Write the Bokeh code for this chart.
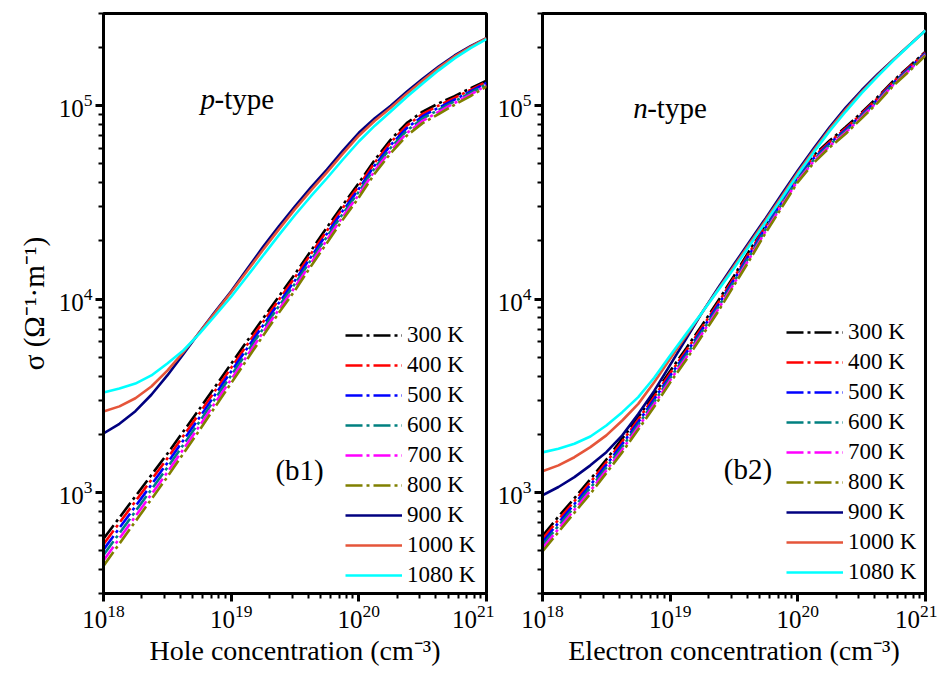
import numpy as np
from bokeh.plotting import figure
from bokeh.models import FixedTicker, Label, Legend, LegendItem, Range1d
from bokeh.layouts import row
from bokeh.embed import file_html
from bokeh.resources import INLINE

# ---- data (log10 of concentration in cm^-3, log10 of sigma in Ohm^-1 m^-1) ----
log_conc = [18.0, 18.125, 18.25, 18.375, 18.5, 18.625, 18.75, 18.875, 19.0,
            19.125, 19.25, 19.375, 19.5, 19.625, 19.75, 19.875, 20.0,
            20.125, 20.25, 20.375, 20.5, 20.625, 20.75, 20.875, 21.0]

temps = ["300 K", "400 K", "500 K", "600 K", "700 K", "800 K", "900 K", "1000 K", "1080 K"]
colors = ["#000000", "#FF0000", "#0000FF", "#008080", "#FF00FF", "#808000",
          "#000080", "#E5553A", "#00FFFF"]

# p-type (b1)
p_300 = [2.760, 2.870, 2.980, 3.090, 3.200, 3.315, 3.430, 3.548, 3.665, 3.783, 3.900, 4.015, 4.130,
         4.250, 4.370, 4.487, 4.600, 4.720, 4.825, 4.910, 4.970, 5.012, 5.050, 5.090, 5.130]
p_400 = [2.732, 2.843, 2.954, 3.065, 3.176, 3.292, 3.408, 3.527, 3.645, 3.764, 3.882, 3.998, 4.113,
         4.234, 4.354, 4.472, 4.585, 4.706, 4.811, 4.897, 4.958, 5.001, 5.041, 5.082, 5.124]
p_500 = [2.704, 2.816, 2.928, 3.040, 3.152, 3.269, 3.386, 3.506, 3.625, 3.745, 3.864, 3.981, 4.096,
         4.218, 4.338, 4.457, 4.570, 4.692, 4.797, 4.884, 4.946, 4.990, 5.032, 5.074, 5.118]
p_600 = [2.676, 2.789, 2.902, 3.015, 3.128, 3.246, 3.364, 3.485, 3.605, 3.726, 3.846, 3.964, 4.079,
         4.202, 4.322, 4.442, 4.555, 4.678, 4.783, 4.871, 4.934, 4.979, 5.023, 5.066, 5.112]
p_700 = [2.648, 2.762, 2.876, 2.990, 3.104, 3.223, 3.342, 3.464, 3.585, 3.707, 3.828, 3.947, 4.062,
         4.186, 4.306, 4.427, 4.540, 4.664, 4.769, 4.858, 4.922, 4.968, 5.014, 5.058, 5.106]
p_800 = [2.620, 2.735, 2.850, 2.965, 3.080, 3.200, 3.320, 3.443, 3.565, 3.688, 3.810, 3.930, 4.045,
         4.170, 4.290, 4.412, 4.525, 4.650, 4.755, 4.845, 4.910, 4.957, 5.005, 5.050, 5.100]
p_900 = [3.305, 3.355, 3.420, 3.505, 3.605, 3.715, 3.827, 3.935, 4.040, 4.155, 4.270, 4.378, 4.480,
         4.578, 4.670, 4.768, 4.860, 4.935, 5.000, 5.072, 5.140, 5.203, 5.260, 5.308, 5.350]
p_1000 = [3.419, 3.445, 3.487, 3.548, 3.630, 3.725, 3.826, 3.930, 4.035, 4.145, 4.255, 4.362, 4.465,
          4.562, 4.655, 4.752, 4.845, 4.922, 4.990, 5.062, 5.130, 5.196, 5.255, 5.305, 5.350]
p_1080 = [3.517, 3.537, 3.563, 3.605, 3.667, 3.734, 3.820, 3.915, 4.012, 4.118, 4.225, 4.332, 4.435,
          4.532, 4.625, 4.722, 4.815, 4.897, 4.970, 5.045, 5.115, 5.183, 5.245, 5.298, 5.345]

# n-type (b2)
n_300 = [2.775, 2.875, 2.970, 3.068, 3.170, 3.278, 3.390, 3.508, 3.628, 3.745, 3.865, 3.990, 4.120,
         4.255, 4.390, 4.520, 4.645, 4.745, 4.820, 4.890, 4.965, 5.045, 5.130, 5.205, 5.280]
n_400 = [2.759, 2.859, 2.955, 3.053, 3.156, 3.264, 3.377, 3.495, 3.616, 3.733, 3.854, 3.979, 4.110,
         4.245, 4.381, 4.511, 4.637, 4.737, 4.813, 4.883, 4.959, 5.039, 5.125, 5.200, 5.276]
n_500 = [2.743, 2.843, 2.940, 3.038, 3.142, 3.250, 3.364, 3.482, 3.604, 3.721, 3.843, 3.968, 4.100,
         4.235, 4.372, 4.502, 4.629, 4.729, 4.806, 4.876, 4.953, 5.033, 5.120, 5.195, 5.272]
n_600 = [2.727, 2.827, 2.925, 3.023, 3.128, 3.236, 3.351, 3.469, 3.592, 3.709, 3.832, 3.957, 4.090,
         4.225, 4.363, 4.493, 4.621, 4.721, 4.799, 4.869, 4.947, 5.027, 5.115, 5.190, 5.268]
n_700 = [2.711, 2.811, 2.910, 3.008, 3.114, 3.222, 3.338, 3.456, 3.580, 3.697, 3.821, 3.946, 4.080,
         4.215, 4.354, 4.484, 4.613, 4.713, 4.792, 4.862, 4.941, 5.021, 5.110, 5.185, 5.264]
n_800 = [2.695, 2.795, 2.895, 2.993, 3.100, 3.208, 3.325, 3.443, 3.568, 3.685, 3.810, 3.935, 4.070,
         4.205, 4.345, 4.475, 4.605, 4.705, 4.785, 4.855, 4.935, 5.015, 5.105, 5.180, 5.260]
n_900 = [2.985, 3.028, 3.079, 3.140, 3.208, 3.295, 3.405, 3.525, 3.660, 3.795, 3.930, 4.058, 4.180,
         4.300, 4.420, 4.543, 4.665, 4.780, 4.890, 4.990, 5.080, 5.163, 5.240, 5.315, 5.390]
n_1000 = [3.109, 3.140, 3.182, 3.234, 3.295, 3.372, 3.458, 3.570, 3.691, 3.810, 3.930, 4.050, 4.170,
          4.290, 4.410, 4.532, 4.655, 4.770, 4.880, 4.980, 5.072, 5.157, 5.238, 5.315, 5.390]
n_1080 = [3.207, 3.226, 3.252, 3.289, 3.346, 3.415, 3.493, 3.593, 3.708, 3.820, 3.930, 4.045, 4.160,
          4.280, 4.400, 4.522, 4.645, 4.760, 4.870, 4.970, 5.065, 5.152, 5.235, 5.313, 5.390]

x_major = [1e18, 1e19, 1e20, 1e21]
y_major = [1e3, 1e4, 1e5]

FONT = "Liberation Serif"


def make_panel(series, width, min_left, min_right, xlabel, ylabel, tag, tag_pos,
               ttype_letter, ttype_pos, legend_loc):
    p = figure(width=width, height=668, x_axis_type="log", y_axis_type="log",
               x_range=Range1d(1e18, 1e21), y_range=Range1d(300, 3e5),
               output_backend="svg", toolbar_location=None,
               min_border_left=min_left, min_border_right=min_right,
               min_border_top=13, min_border_bottom=75)
    p.xgrid.visible = False
    p.ygrid.visible = False
    p.outline_line_color = "black"
    p.outline_line_width = 3
    p.outline_line_alpha = 1.0
    p.background_fill_color = "white"
    p.border_fill_color = "white"

    xminor = [k * 10.0 ** e for e in (18, 19, 20) for k in range(2, 10)]
    yminor = [k * 10.0 ** e for e in (2, 3, 4, 5) for k in range(2, 10) if 300 <= k * 10.0 ** e <= 3e5]
    p.xaxis.ticker = FixedTicker(ticks=x_major, minor_ticks=xminor)
    p.yaxis.ticker = FixedTicker(ticks=y_major, minor_ticks=yminor)

    for ax in (p.xaxis[0], p.yaxis[0]):
        ax.axis_line_width = 3
        ax.axis_line_color = "black"
        ax.major_tick_in = 0
        ax.major_tick_out = 8
        ax.minor_tick_in = 0
        ax.minor_tick_out = 5
        ax.major_tick_line_width = 3
        ax.minor_tick_line_width = 2
        ax.major_label_text_font = FONT
        ax.major_label_text_font_size = "25px"
        ax.major_label_text_color = "black"
        ax.major_label_standoff = 3
        ax.axis_label_text_font = FONT
        ax.axis_label_text_font_size = "28px"
        ax.axis_label_text_font_style = "normal"
        ax.axis_label_text_color = "black"
    p.xaxis.axis_label = xlabel
    p.xaxis.axis_label_standoff = 4
    if ylabel:
        p.yaxis.axis_label = ylabel
        p.yaxis.axis_label_standoff = 6
        p.yaxis.axis_label_text_font_size = "29px"

    x = np.power(10.0, log_conc)
    items = []
    for i, (vals, t, c) in enumerate(zip(series, temps, colors)):
        y = np.power(10.0, vals)
        if i < 6:
            r = p.line(x, y, line_color=c, line_width=2.6, line_dash="17 4 3 4")
        else:
            r = p.line(x, y, line_color=c, line_width=2.6)
        items.append(LegendItem(label=t, renderers=[r]))

    legend = Legend(items=items, location=legend_loc, border_line_color=None,
                    background_fill_alpha=0, padding=0, margin=0, spacing=4,
                    label_height=22, glyph_height=22, glyph_width=57, label_standoff=5,
                    label_text_font=FONT, label_text_font_size="23px",
                    label_text_color="black")
    p.add_layout(legend)

    p.add_layout(Label(x=10 ** ttype_pos[0], y=10 ** ttype_pos[1], text=ttype_letter,
                       text_font=FONT, text_font_style="italic", text_font_size="29px",
                       text_baseline="alphabetic", text_color="black"))
    p.add_layout(Label(x=10 ** ttype_pos[2], y=10 ** ttype_pos[1], text="-type",
                       text_font=FONT, text_font_size="29px",
                       text_baseline="alphabetic", text_color="black"))
    p.add_layout(Label(x=10 ** tag_pos[0], y=10 ** tag_pos[1], text=tag,
                       text_font=FONT, text_font_size="29px",
                       text_baseline="middle", text_color="black"))
    return p


p1 = make_panel([p_300, p_400, p_500, p_600, p_700, p_800, p_900, p_1000, p_1080],
                width=494, min_left=103, min_right=8,
                xlabel="Hole concentration (cm\u207b\u00b3)",
                ylabel="\u03c3 (\u03a9\u207b\u00b9\u00b7m\u207b\u00b9)",
                tag="(b1)", tag_pos=(19.347, 3.114),
                ttype_letter="p", ttype_pos=(18.76, 5.036, 18.87),
                legend_loc=(242, 5))

p2 = make_panel([n_300, n_400, n_500, n_600, n_700, n_800, n_900, n_1000, n_1080],
                width=443, min_left=47, min_right=12,
                xlabel="Electron concentration (cm\u207b\u00b3)",
                ylabel=None,
                tag="(b2)", tag_pos=(19.42, 3.119),
                ttype_letter="n", ttype_pos=(18.711, 4.99, 18.82),
                legend_loc=(244, 8))

layout = row(p1, p2)

with open("out.html", "w") as f:
    f.write(file_html(layout, INLINE))
